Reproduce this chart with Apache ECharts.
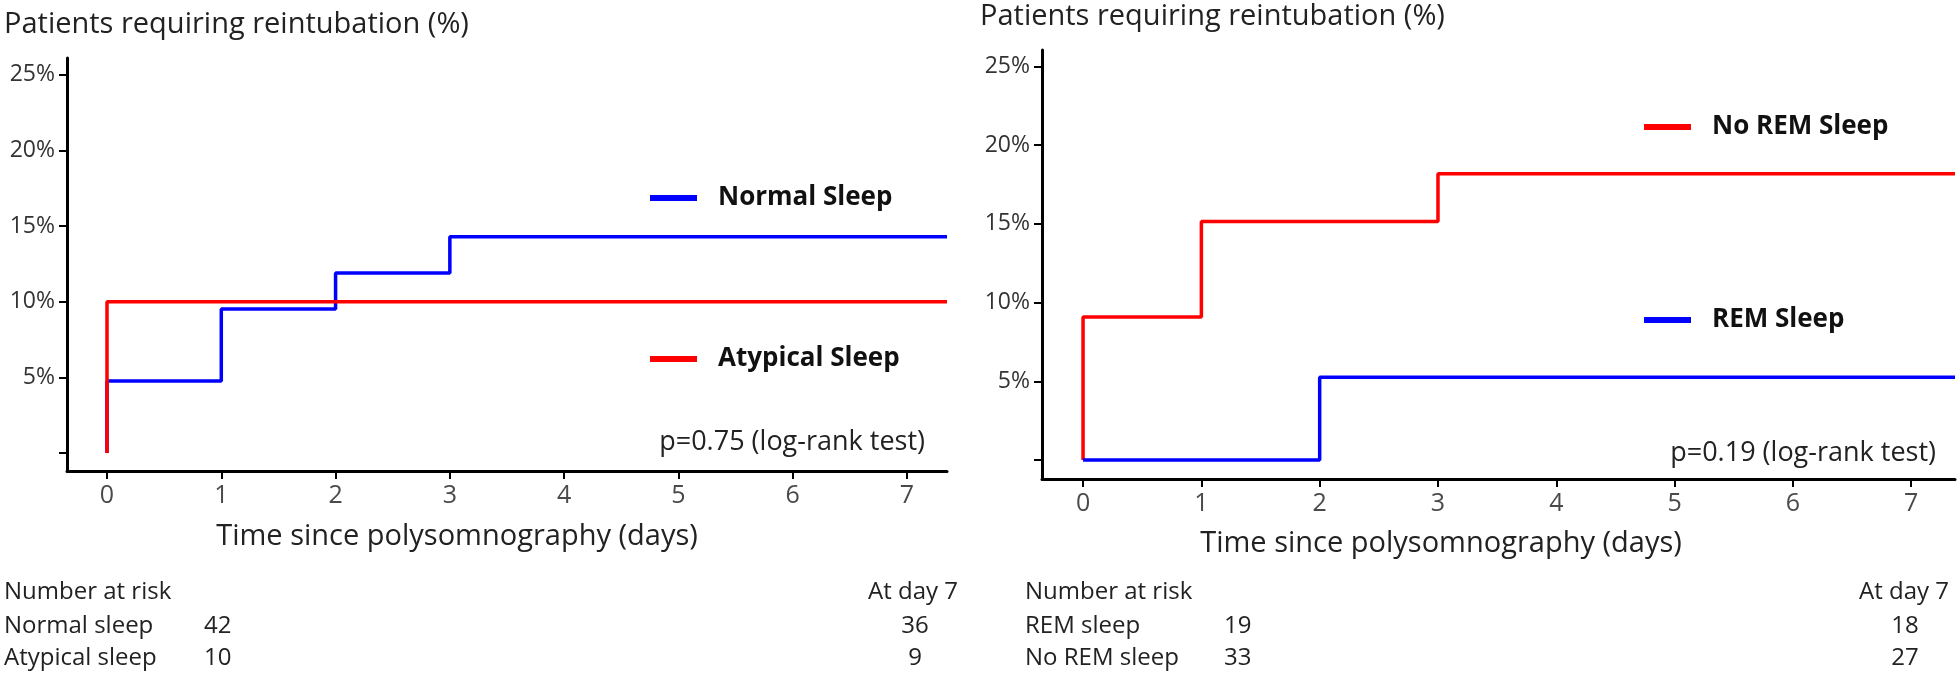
<!DOCTYPE html>
<html>
<head>
<meta charset="utf-8">
<script src="https://cdn.jsdelivr.net/npm/echarts@6/dist/echarts.min.js"></script>
<style>
html,body{margin:0;padding:0;background:#fff;}
#chart{width:1958px;height:674px;}
</style>
</head>
<body>
<div id="chart"></div>
<script>
// ---- data ----
const dayTicks = [0, 1, 2, 3, 4, 5, 6, 7];
const pctTicks = [0, 5, 10, 15, 20, 25];

// left panel (axis range in days / %)
const leftXRange = [-0.35, 7.35];
const leftYRange = [-1.19, 26.1];
// right panel
const rightXRange = [-0.347, 7.37];
const rightYRange = [-1.21, 26.05];

// Kaplan-Meier cumulative incidence (%) at event times (days)
const normalTimes = [0, 0, 1, 2, 3, 7.35];
const normalPct   = [0, 4.76, 9.52, 11.90, 14.29, 14.29];
const atypicalTimes = [0, 0, 7.35];
const atypicalPct   = [0, 10, 10];
const noRemTimes = [0, 0, 1, 3, 7.37];
const noRemPct   = [0, 9.09, 15.15, 18.18, 18.18];
const remTimes = [0, 2, 7.37];
const remPct   = [0, 5.26, 5.26];

// number at risk
const riskLeftGroups = ['Normal sleep', 'Atypical sleep'];
const riskLeftStart  = [42, 10];
const riskLeftDay7   = [36, 9];
const riskRightGroups = ['REM sleep', 'No REM sleep'];
const riskRightStart  = [19, 33];
const riskRightDay7   = [18, 27];

const pLeft = 'p=0.75 (log-rank test)';
const pRight = 'p=0.19 (log-rank test)';
const yTitle = 'Patients requiring reintubation (%)';
const xTitle = 'Time since polysomnography (days)';

// ---- build ----
const FONT = '"Open Sans", "Liberation Sans", sans-serif';
const BLUE = '#0000ff', RED = '#ff0000';
const zip = (a, b) => a.map((v, i) => [v, b[i]]);

function xAxis(gridIndex, range) {
  return {
    type: 'value', gridIndex, min: range[0], max: range[1],
    axisLine: {show: true, onZero: false, lineStyle: {color: '#000', width: 3}},
    axisTick: {show: true, length: 8, inside: false, customValues: dayTicks, lineStyle: {color: '#000', width: 2}},
    axisLabel: {customValues: dayTicks, margin: 12, fontSize: 25, fontFamily: FONT, color: '#4a4a4a'},
    splitLine: {show: false}
  };
}
function yAxis(gridIndex, range) {
  return {
    type: 'value', gridIndex, min: range[0], max: range[1],
    axisLine: {show: true, onZero: false, lineStyle: {color: '#000', width: 3}},
    axisTick: {show: true, length: 8, inside: false, customValues: pctTicks, lineStyle: {color: '#000', width: 2}},
    axisLabel: {customValues: pctTicks, margin: 12, fontSize: 23, fontFamily: FONT, color: '#333',
      formatter: v => (v === 0 ? '' : v + '%')},
    splitLine: {show: false}
  };
}
function line(name, xi, times, pct, color) {
  return {
    name, type: 'line', xAxisIndex: xi, yAxisIndex: xi, step: 'end',
    data: zip(times, pct), showSymbol: false, symbol: 'none',
    lineStyle: {color, width: 3.5}, itemStyle: {color}, clip: true
  };
}
function legend(name, left, midY) {
  return {
    data: [name], left, top: midY - 14, itemWidth: 47, itemHeight: 6, icon: 'rect',
    padding: 0, itemGap: 0, selectedMode: false,
    textStyle: {fontSize: 26, fontWeight: 'bold', fontFamily: FONT, color: '#111', padding: [0, 0, 0, 16]}
  };
}
function txt(text, x, y, size, align, color, weight) {
  return {type: 'text', x, y, silent: true, style: {
    text: String(text), fontSize: size, fontFamily: FONT, fill: color || '#222',
    fontWeight: weight || 'normal', align: align || 'left', verticalAlign: 'middle'}};
}

const graphics = [
  txt(yTitle, 4, 25, 29, 'left'),
  txt(yTitle, 980, 17, 29, 'left'),
  txt(xTitle, 457, 537, 29, 'center'),
  txt(xTitle, 1441, 544, 29, 'center'),
  txt(pLeft, 925, 442, 27, 'right'),
  txt(pRight, 1936, 453, 27, 'right'),
  txt('Number at risk', 4, 592, 24, 'left'),
  txt('At day 7', 958, 592, 24, 'right'),
  txt('Number at risk', 1025, 592, 24, 'left'),
  txt('At day 7', 1949, 592, 24, 'right')
];
const rowY = [626, 658];
riskLeftGroups.forEach((g, i) => {
  graphics.push(txt(g, 4, rowY[i], 24, 'left'));
  graphics.push(txt(riskLeftStart[i], 204, rowY[i], 24, 'left'));
  graphics.push(txt(riskLeftDay7[i], 915, rowY[i], 24, 'center'));
});
riskRightGroups.forEach((g, i) => {
  graphics.push(txt(g, 1025, rowY[i], 24, 'left'));
  graphics.push(txt(riskRightStart[i], 1224, rowY[i], 24, 'left'));
  graphics.push(txt(riskRightDay7[i], 1905, rowY[i], 24, 'center'));
});

const chart = echarts.init(document.getElementById('chart'), null, {renderer: 'canvas'});
chart.setOption({
  animation: false,
  backgroundColor: '#fff',
  grid: [
    {left: 67, top: 58, width: 880, height: 413},
    {left: 1042, top: 50, width: 913, height: 429}
  ],
  xAxis: [xAxis(0, leftXRange), xAxis(1, rightXRange)],
  yAxis: [yAxis(0, leftYRange), yAxis(1, rightYRange)],
  legend: [
    legend('Normal Sleep', 650, 199),
    legend('Atypical Sleep', 650, 360),
    legend('No REM Sleep', 1644, 128),
    legend('REM Sleep', 1644, 321)
  ],
  series: [
    line('Normal Sleep', 0, normalTimes, normalPct, BLUE),
    line('Atypical Sleep', 0, atypicalTimes, atypicalPct, RED),
    line('No REM Sleep', 1, noRemTimes, noRemPct, RED),
    line('REM Sleep', 1, remTimes, remPct, BLUE)
  ],
  graphic: graphics
});
</script>
</body>
</html>
